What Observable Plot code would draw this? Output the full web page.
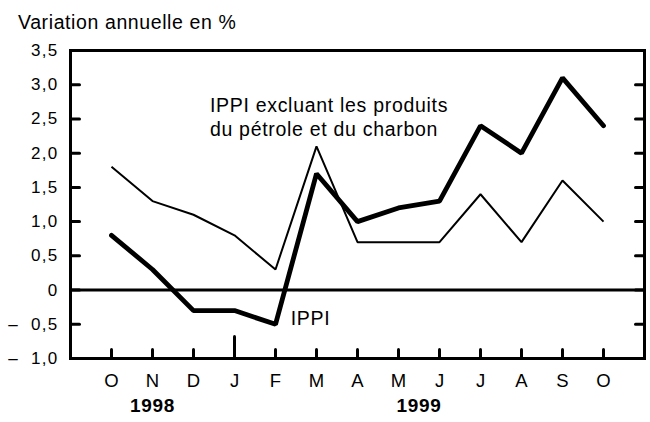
<!DOCTYPE html>
<html><head><meta charset="utf-8">
<script src="https://cdn.jsdelivr.net/npm/d3@7"></script>
<script src="https://cdn.jsdelivr.net/npm/@observablehq/plot@0.6"></script>
<style>
body{margin:0;background:#fff;font-family:"Liberation Sans",Arial,sans-serif;color:#000;}
#title{height:34px;box-sizing:border-box;padding-left:18px;padding-top:11px;font-size:19.5px;line-height:22px;letter-spacing:0.6px;}
</style></head><body>
<div id="title">Variation annuelle en %</div>
<div id="chart"></div>
<script>
const months = ["O","N","D","J","F","M","A","M","J","J","A","S","O"];
const ippi = [0.8,0.3,-0.3,-0.3,-0.5,1.7,1.0,1.2,1.3,2.4,2.0,3.1,2.4];
const ippiExcl = [1.8,1.3,1.1,0.8,0.3,2.1,0.7,0.7,0.7,1.4,0.7,1.6,1.0];
const yTicks = [-1,-0.5,0,0.5,1,1.5,2,2.5,3,3.5];
const years = ["1998","1999"];
const yearStart = [0,3];
const yearEnd = [2,12];
const labels = [
  {x:2.4, y:2.54, text:"IPPI excluant les produits\ndu pétrole et du charbon"},
  {x:4.37, y:-0.4, text:"IPPI"}
];

const idx = d3.range(months.length);
const innerY = yTicks.slice(1, -1);
const fmt = d => d === 0 ? "0" : (d < 0 ? "\u2013\u00a0\u00a0" : "") + Math.abs(d).toFixed(1).replace(".", ",");
const tickShape = {draw(ctx, l){ ctx.moveTo(0,0); ctx.lineTo(0,-l); }};
const yearData = years.map((y,i)=>({label:y, x:(yearStart[i]+yearEnd[i])/2}));

const chart = Plot.plot({
  width: 650, height: 388,
  marginLeft: 70, marginRight: 6, marginTop: 16, marginBottom: 64,
  style: {fontFamily: "'Liberation Sans', Arial, sans-serif", background: "white", color: "black", overflow: "visible"},
  x: {domain: [-1, 13], axis: null},
  y: {domain: [-1, 3.5], axis: null},
  marks: [
    Plot.axisY(yTicks, {anchor: "left", tickSize: 0, tickPadding: 12, tickFormat: fmt, fontSize: 17, label: null}),
    Plot.axisX(idx, {anchor: "bottom", tickSize: 0, tickPadding: 15, tickFormat: i => months[i], fontSize: 18.5, label: null}),
    Plot.text(yearData, {x: "x", text: "label", frameAnchor: "bottom", dy: 53, fontSize: 19, fontWeight: "bold"}),
    Plot.vector(innerY, {y: d => d, frameAnchor: "left", length: 9, rotate: 90, anchor: "start", shape: tickShape, strokeWidth: 3}),
    Plot.vector(innerY, {y: d => d, frameAnchor: "right", length: 9, rotate: -90, anchor: "start", shape: tickShape, strokeWidth: 3}),
    Plot.vector(idx, {x: d => d, frameAnchor: "bottom", length: 9, rotate: 0, anchor: "start", shape: tickShape, strokeWidth: 3}),
    Plot.vector(yearStart.slice(1), {x: d => d, frameAnchor: "bottom", length: 22, rotate: 0, anchor: "start", shape: tickShape, strokeWidth: 3}),
    Plot.ruleY([0], {strokeWidth: 3}),
    Plot.line(ippiExcl, {x: (d,i) => i, y: d => d, strokeWidth: 2, strokeLinejoin: "miter", strokeLinecap: "butt"}),
    Plot.line(ippi, {x: (d,i) => i, y: d => d, strokeWidth: 4.8, strokeLinejoin: "miter", strokeLinecap: "round"}),
    Plot.text(labels, {x: "x", y: "y", text: "text", textAnchor: "start", fontSize: 19.5, lineHeight: 1.24}),
    Plot.frame({strokeWidth: 3})
  ]
});
const s = d3.select(chart);
s.selectAll("[aria-label='y-axis tick label'] text").attr("letter-spacing", "1.3");
s.selectAll("g[aria-label='text'] text").attr("letter-spacing", "0.7");
document.getElementById("chart").appendChild(chart);
</script>
</body></html>
